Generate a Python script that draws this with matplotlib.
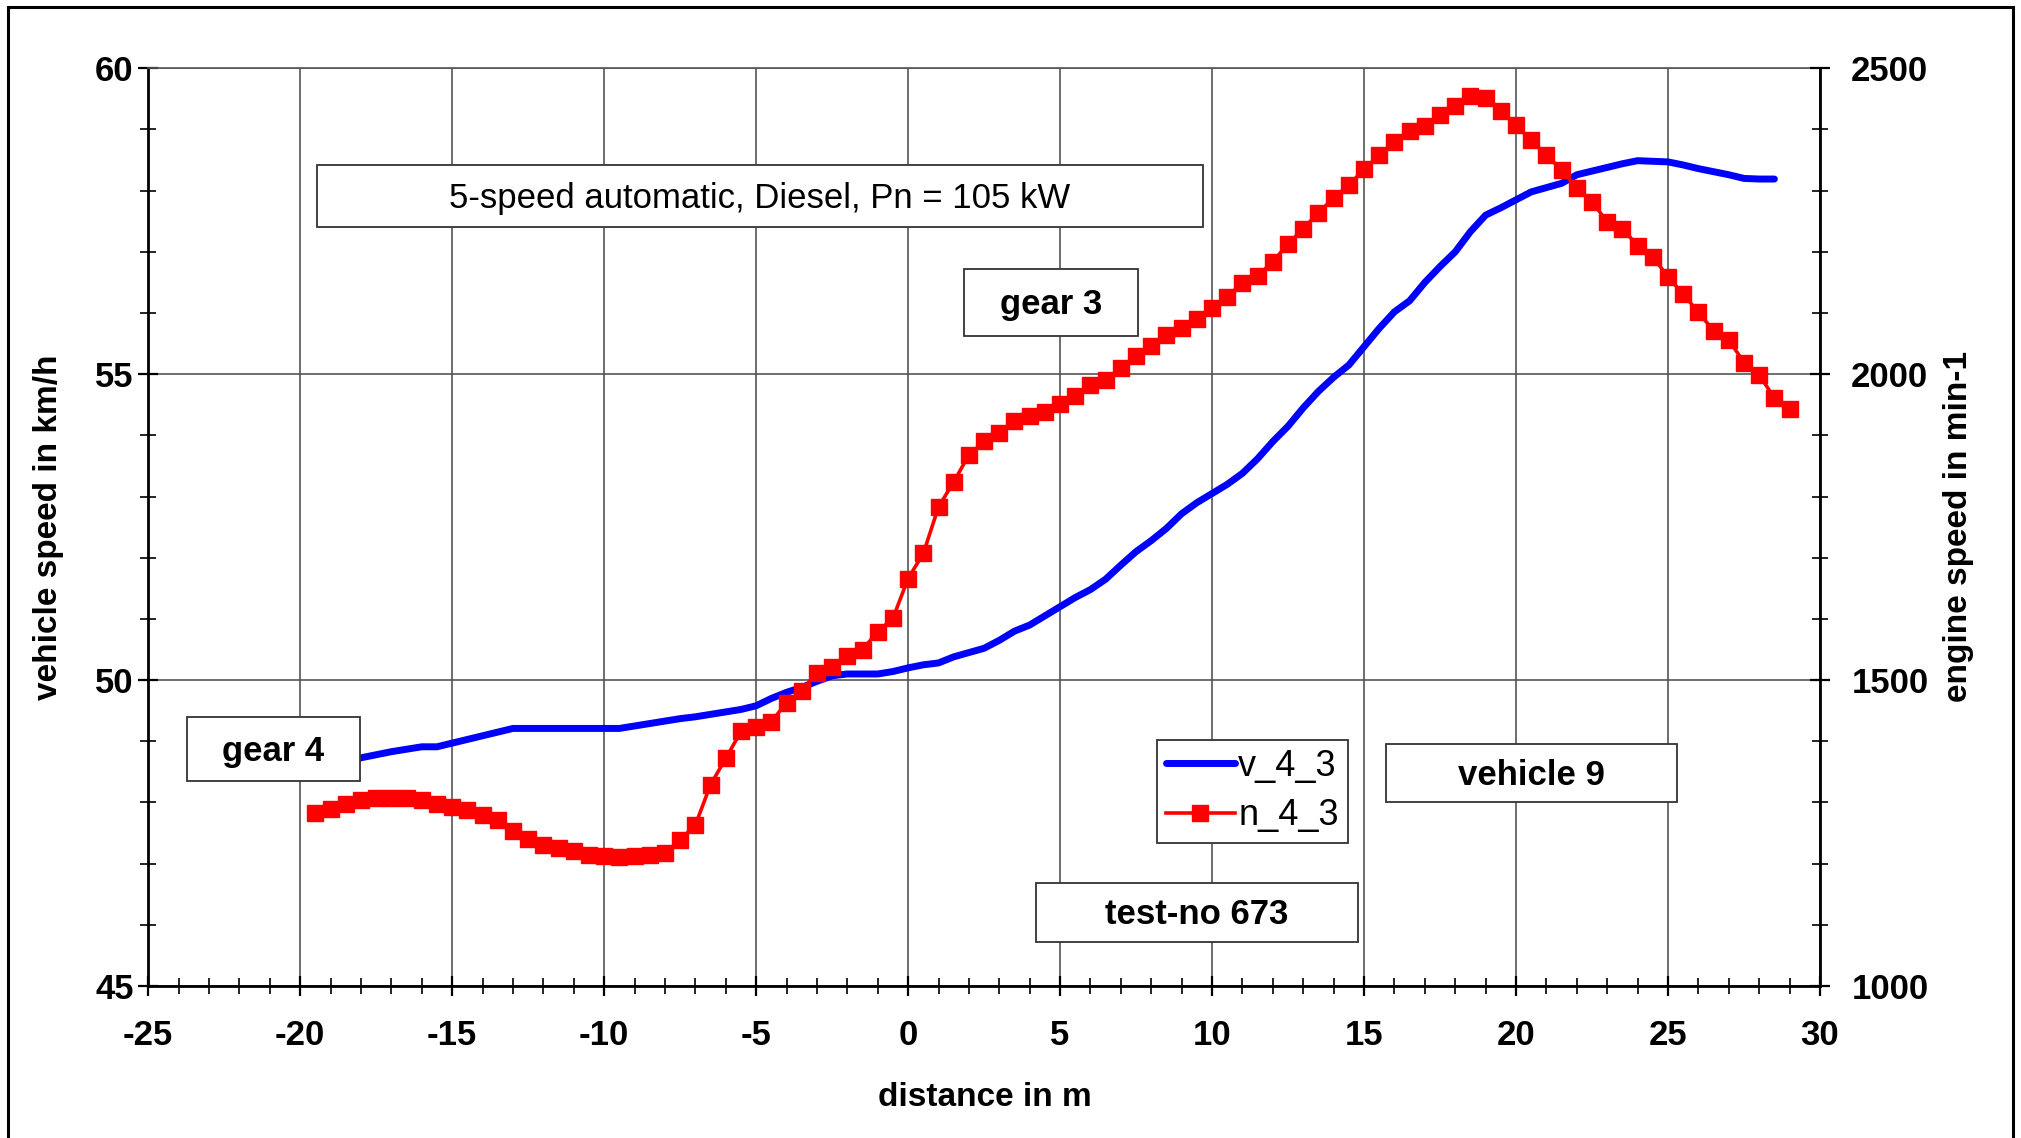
import numpy as np
import matplotlib
matplotlib.use("Agg")
import matplotlib.pyplot as plt
from matplotlib.patches import Rectangle
from matplotlib.ticker import MultipleLocator

plt.rcParams['font.family'] = ['Liberation Sans', 'DejaVu Sans']
plt.rcParams['axes.unicode_minus'] = False

# Data
dist_v = np.arange(-19.5, 28.51, 0.5)
v_4_3 = [48.55, 48.60, 48.67, 48.73, 48.78, 48.83, 48.87, 48.91, 48.91, 48.97,
         49.03, 49.09, 49.15, 49.21, 49.21, 49.21, 49.21, 49.21, 49.21, 49.21,
         49.21, 49.25, 49.29, 49.33, 49.37, 49.40, 49.44, 49.48, 49.52, 49.58,
         49.70, 49.80, 49.88, 49.98, 50.07, 50.10, 50.10, 50.10, 50.14,
         50.20, 50.25, 50.28, 50.38, 50.45, 50.52, 50.65, 50.80, 50.90, 51.05,
         51.20, 51.35, 51.48, 51.65, 51.88, 52.10, 52.28, 52.48, 52.72, 52.90,
         53.05, 53.20, 53.38, 53.62, 53.90, 54.15, 54.45, 54.72, 54.95, 55.15,
         55.45, 55.75, 56.02, 56.20, 56.50, 56.76, 57.00, 57.33, 57.60, 57.72,
         57.85, 57.98, 58.05, 58.12, 58.26, 58.32, 58.38, 58.44, 58.49, 58.48,
         58.47, 58.42, 58.36, 58.31, 58.26, 58.20, 58.19, 58.19]

dist_n = np.arange(-19.5, 29.01, 0.5)
n_4_3 = [1282, 1290, 1298, 1304, 1307, 1308, 1307, 1304, 1297, 1293,
         1288, 1280, 1271, 1254, 1241, 1230, 1225, 1220, 1214, 1212,
         1211, 1212, 1214, 1217, 1239, 1263, 1329, 1372, 1416, 1423,
         1432, 1463, 1483, 1512, 1521, 1539, 1550, 1579, 1601,
         1666, 1707, 1783, 1824, 1868, 1890, 1904, 1924, 1931, 1939,
         1951, 1964, 1982, 1991, 2010, 2029, 2046, 2064, 2075, 2091,
         2109, 2127, 2149, 2161, 2184, 2213, 2238, 2264, 2288, 2309,
         2335, 2358, 2380, 2398, 2406, 2424, 2438, 2454, 2452, 2430,
         2407, 2382, 2358, 2334, 2304, 2282, 2249, 2238, 2210, 2192,
         2159, 2131, 2101, 2071, 2056, 2019, 1999, 1961, 1943]

W, H = 2021, 1138
fig = plt.figure(figsize=(W / 100, H / 100), dpi=100)
ax = fig.add_axes([148.2 / W, 1 - 986 / H, (1820 - 148.2) / W, (986 - 68.3) / H])
ax2 = ax.twinx()

# Plotting
l1, = ax.plot(dist_v, v_4_3, color="#0000FF", lw=5, solid_capstyle="round",
              label="v_4_3", zorder=3)
l2, = ax2.plot(dist_n, n_4_3, color="#FF0000", lw=2.6, marker="s", ms=12,
               label="n_4_3", zorder=3)

ax.set_xlim(-25, 30)
ax.set_ylim(45, 60)
ax2.set_ylim(1000, 2500)
ax.set_xticks(range(-25, 31, 5))
ax.xaxis.set_minor_locator(MultipleLocator(1))
ax.set_yticks([45, 50, 55, 60])
ax.yaxis.set_minor_locator(MultipleLocator(1))
ax2.set_yticks([1000, 1500, 2000, 2500])
ax2.yaxis.set_minor_locator(MultipleLocator(100))

ax.grid(which="major", color="#555555", lw=1.2)
ax.set_axisbelow(True)

for a in (ax, ax2):
    a.tick_params(which="major", direction="inout", length=15, width=1.6,
                  labelsize=25)
    a.tick_params(which="minor", direction="inout", length=11, width=1.2)
    for lab in a.get_xticklabels() + a.get_yticklabels():
        lab.set_fontweight("bold")
ax.tick_params(axis="x", pad=16)
ax.tick_params(axis="y", pad=3)
ax2.tick_params(axis="y", pad=15)

ax.spines["top"].set_color("#555555")
ax.spines["top"].set_linewidth(1.2)
ax.spines["right"].set_visible(False)
for s in ("left", "bottom"):
    ax.spines[s].set_linewidth(2)
for s in ("left", "top", "bottom"):
    ax2.spines[s].set_visible(False)
ax2.spines["right"].set_linewidth(2)

# axis labels
fig.text(985 / W, 1 - 1097 / H, "distance in m", ha="center", va="center",
         fontsize=24, fontweight="bold")
fig.text(49 / W, 1 - 527 / H, "vehicle speed in km/h", ha="center",
         va="center", rotation=90, fontsize=24, fontweight="bold")
fig.text(1959 / W, 1 - 527 / H, "engine speed in min-1", ha="center",
         va="center", rotation=90, fontsize=24, fontweight="bold")


def label_box(x0, y0, x1, y1, text, weight="bold"):
    fig.add_artist(Rectangle((x0 / W, 1 - y1 / H), (x1 - x0) / W,
                             (y1 - y0) / H, transform=fig.transFigure,
                             facecolor="white", edgecolor="#333333", lw=1.3,
                             zorder=5))
    fig.text((x0 + x1) / 2 / W, 1 - (y0 + y1) / 2 / H - 0.002, text,
             ha="center", va="center", fontsize=25, fontweight=weight,
             zorder=6)


label_box(317, 165, 1203, 227, "5-speed automatic, Diesel, Pn = 105 kW",
          weight="normal")
label_box(964, 269, 1138, 336, "gear 3")
label_box(187, 717, 360, 781, "gear 4")
label_box(1386, 744, 1677, 802, "vehicle 9")
label_box(1036, 883, 1358, 942, "test-no 673")

leg = ax2.legend(handles=[l1, l2], loc="upper left",
                 bbox_to_anchor=(1157 / W, 1 - 740 / H),
                 bbox_transform=fig.transFigure, fontsize=26, frameon=True,
                 fancybox=False, framealpha=1, edgecolor="#333333",
                 borderpad=0.25, labelspacing=0.4, handlelength=1.9,
                 handletextpad=0.1, borderaxespad=0)
leg.get_frame().set_linewidth(1.3)

# outer frame
fig.add_artist(Rectangle((8 / W, -0.01), (2013 - 8) / W, 1 - 7 / H + 0.01,
                         transform=fig.transFigure, fill=False,
                         edgecolor="black", lw=2.2, clip_on=False))

plt.savefig("out.png", dpi=100)
